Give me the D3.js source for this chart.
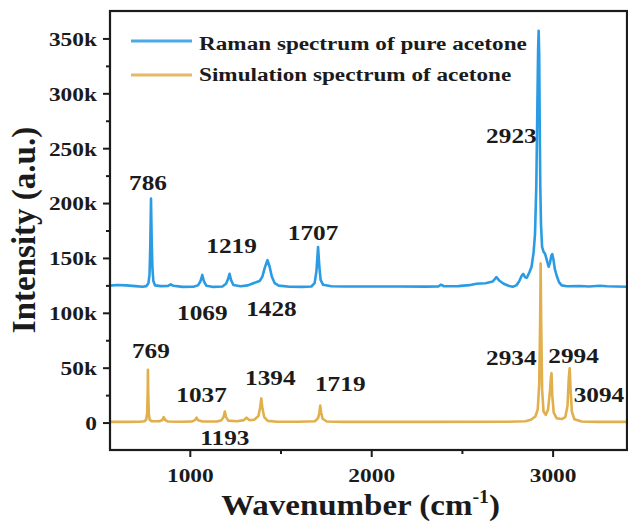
<!DOCTYPE html>
<html>
<head>
<meta charset="utf-8">
<script src="https://cdn.jsdelivr.net/npm/d3@7"></script>
<style>
  body { margin: 0; background: #fff; }
  text { font-family: "Liberation Serif", "Times New Roman", serif; font-weight: bold; fill: #1b1b1b; }
</style>
</head>
<body>
<svg id="chart" width="628" height="521"></svg>
<script>
// ---- data ----
const seriesNames = ["Raman spectrum of pure acetone", "Simulation spectrum of acetone"];

// Measured Raman spectrum of pure acetone
const ramanWavenumber = [
  560, 600, 650, 700, 740, 760, 772, 778, 782, 786, 790, 794, 799, 808, 840, 880, 895, 910, 960,
  1020, 1045, 1058, 1069, 1078, 1092, 1130, 1180, 1200, 1211, 1219, 1227, 1240, 1280, 1320, 1350,
  1365, 1385, 1400, 1413, 1428, 1440, 1452, 1468, 1490, 1550, 1620, 1670, 1688, 1698, 1707, 1714,
  1721, 1735, 1780, 1850, 2000, 2150, 2300, 2370, 2385, 2400, 2480, 2540, 2580, 2630, 2670, 2690,
  2705, 2730, 2760, 2780, 2800, 2815, 2830, 2838, 2848, 2858, 2872, 2884, 2895, 2903, 2910, 2916,
  2920, 2923, 2926, 2929, 2932, 2936, 2942, 2950, 2958, 2968, 2978, 2986, 2993, 2998, 3004, 3012,
  3022, 3035, 3050, 3080, 3150, 3200, 3260, 3300, 3350, 3410
];
const ramanIntensity = [
  124800, 125300, 125000, 124300, 123800, 124300, 127000, 135000, 160000, 204000, 165000, 140000,
  129000, 125000, 124300, 124500, 126000, 124600, 123600,
  123700, 125000, 128500, 134500, 128500, 124600, 123600, 124000, 126500, 131000, 135500, 130000,
  125300, 124200, 125000, 127000,
  127800, 129000, 133000, 141000, 148000, 142000, 133000, 127000, 124800, 123800, 123600, 124000,
  127000, 138000, 160000, 142000,
  130000, 125500, 124200, 124000, 124000, 124000, 123900, 124000, 125600, 124200, 124300, 125200,
  126500, 127000, 128500, 132500,
  129500, 126500, 124500, 123800, 125000, 128500, 134000, 135500, 132500, 132000, 137000, 142000,
  155000, 172000, 215000, 290000,
  340000, 357000, 335000, 270000, 215000, 180000, 160000, 155500, 154000, 148000, 142000, 146000,
  152000, 153500, 149000, 140000,
  134000, 128000, 125000, 124200, 124400, 124000, 124600, 124200, 124000, 123800
];

// Simulated spectrum of acetone
const simWavenumber = [
  560, 650, 720, 750, 760, 765, 768, 769, 771, 774, 779, 790, 830, 848, 856, 864, 880, 950,
  1010, 1028, 1037, 1046, 1070, 1150, 1175, 1186, 1193, 1200, 1212, 1260, 1298, 1313, 1328, 1355,
  1378, 1388, 1394, 1400, 1410, 1430, 1480, 1600, 1690, 1707, 1714, 1719, 1724, 1732, 1755, 1850,
  2300, 2750, 2850, 2880, 2905, 2918, 2926, 2931, 2934, 2937, 2942, 2950, 2962, 2975, 2986, 2991,
  2994, 2998, 3006, 3022, 3050, 3070, 3082, 3089, 3094, 3099, 3106, 3120, 3160, 3250, 3410
];
const simIntensity = [
  600, 600, 700, 1200, 3000, 9000, 30000, 48000, 25000, 8000, 2500, 1300, 1200, 2200, 5000, 2200, 1000, 700,
  900, 2200, 4500, 2000, 900, 1000, 2200, 5000, 10000, 5000, 1800, 1200, 2200, 4500, 2200, 2500,
  6000, 14000, 22000, 13000, 5000, 1500, 800, 700, 1200, 4000, 9000, 15500, 9000, 3500, 1000, 600,
  600, 700, 1200, 2500, 5500, 12000, 35000, 90000, 145000, 90000, 30000, 10000, 7000, 12000, 30000, 42000,
  45000, 25000, 9000, 4000, 3200, 5000, 15000, 40000, 49500, 30000, 10000, 3000, 1000, 600, 600
];

const ramanPeakLabels = ["786", "1069", "1219", "1428", "1707", "2923"];
const simPeakLabels = ["769", "1037", "1193", "1394", "1719", "2934", "2994", "3094"];

const xTicks = [1000, 2000, 3000];
const xTickLabels = ["1000", "2000", "3000"];
const xMinorTicks = [1500, 2500];
const yTicks = [0, 50000, 100000, 150000, 200000, 250000, 300000, 350000];
const yTickLabels = ["0", "50k", "100k", "150k", "200k", "250k", "300k", "350k"];
const yMinorTicks = [25000, 75000, 125000, 175000, 225000, 275000, 325000];

const xLabel = "Wavenumber (cm";
const xLabelSup = "-1";
const yLabel = "Intensity (a.u.)";

// ---- layout ----
const W = 628, H = 521;
const margin = { top: 11, right: 1, bottom: 71, left: 110 };
const iw = W - margin.left - margin.right;
const ih = H - margin.top - margin.bottom;
const colors = ["#2b9ce4", "#e1af4c"];
const ink = "#1b1b1b";
const SX = 1.2; // horizontal stretch of lettering

const svg = d3.select("#chart");
const g = svg.append("g").attr("transform", `translate(${margin.left},${margin.top})`);

const x = d3.scaleLinear().domain([560, 3410]).range([0, iw]);
const y = d3.scaleLinear().domain([-25000, 375000]).range([ih, 0]);

function label(parent, px, py, str, size, anchor, sx) {
  return parent.append("text")
    .attr("transform", `translate(${px},${py}) scale(${sx},1)`)
    .attr("text-anchor", anchor)
    .attr("font-size", size)
    .text(str);
}

// clip for the curves
svg.append("defs").append("clipPath").attr("id", "plotClip")
  .append("rect").attr("width", iw).attr("height", ih);

// ---- axes ----
const xAxis = g.append("g").attr("transform", `translate(0,${ih})`)
  .call(d3.axisBottom(x).tickValues(xTicks).tickFormat((d, i) => xTickLabels[i]).tickSize(7).tickPadding(5));
const xMinor = g.append("g").attr("transform", `translate(0,${ih})`)
  .call(d3.axisBottom(x).tickValues(xMinorTicks).tickFormat("").tickSize(4));
const yAxis = g.append("g")
  .call(d3.axisLeft(y).tickValues(yTicks).tickFormat((d, i) => yTickLabels[i]).tickSize(7));
const yMinor = g.append("g")
  .call(d3.axisLeft(y).tickValues(yMinorTicks).tickFormat("").tickSize(4));

[xAxis, xMinor, yAxis, yMinor].forEach(a => {
  a.select(".domain").remove();
  a.selectAll("line").attr("stroke", ink).attr("stroke-width", 2);
});
xAxis.selectAll("text")
  .attr("font-size", 19.5).attr("fill", ink)
  .attr("y", 0).attr("dy", null)
  .attr("transform", `translate(0,32) scale(${SX},1)`);
yAxis.selectAll("text")
  .attr("font-size", 19.5).attr("fill", ink)
  .attr("x", 0).attr("dy", "0.35em")
  .attr("transform", `translate(-13,0) scale(${SX},1)`);

// ---- curves ----
const line = d3.line().x(d => x(d[0])).y(d => y(d[1]));
const ramanPts = ramanWavenumber.map((w, i) => [w, ramanIntensity[i]]);
const simPts = simWavenumber.map((w, i) => [w, simIntensity[i]]);

const curves = g.append("g").attr("clip-path", "url(#plotClip)");
curves.append("path").datum(ramanPts).attr("d", line)
  .attr("fill", "none").attr("stroke", colors[0]).attr("stroke-width", 2.6)
  .attr("stroke-linejoin", "round");
curves.append("path").datum(simPts).attr("d", line)
  .attr("fill", "none").attr("stroke", colors[1]).attr("stroke-width", 2.6)
  .attr("stroke-linejoin", "round");

// ---- frame ----
g.append("rect").attr("width", iw).attr("height", ih)
  .attr("fill", "none").attr("stroke", ink).attr("stroke-width", 2.2);

// ---- peak annotations (offsets in px from each peak top) ----
const ramanOffsets = [
  { dx: -3, dy: -9, a: "middle" }, { dx: 0, dy: 45, a: "middle" }, { dx: 2, dy: -21, a: "middle" },
  { dx: 4, dy: 56, a: "middle" }, { dx: -5, dy: -7, a: "middle" }, { dx: -2, dy: 112, a: "end" }
];
const simOffsets = [
  { dx: 3, dy: -12, a: "middle" }, { dx: 5, dy: -16, a: "middle" }, { dx: 0, dy: 33, a: "middle" },
  { dx: 9, dy: -13, a: "middle" }, { dx: 20, dy: -15, a: "middle" }, { dx: -4, dy: 102, a: "end" },
  { dx: 22, dy: -10, a: "middle" }, { dx: 4, dy: 34, a: "start" }
];

function annotate(labels, wn, vals, offsets) {
  labels.forEach((t, i) => {
    const p = +t;
    const k = wn.indexOf(p);
    const px = x(p), py = y(vals[k]);
    const o = offsets[i];
    label(g, px + o.dx, py + o.dy, t, 22, o.a, 1.15);
  });
}
annotate(ramanPeakLabels, ramanWavenumber, ramanIntensity, ramanOffsets);
annotate(simPeakLabels, simWavenumber, simIntensity, simOffsets);

// ---- legend ----
const legend = g.append("g").attr("transform", "translate(21,30)");
seriesNames.forEach((name, i) => {
  const ly = i * 34;
  legend.append("line").attr("x1", 0).attr("x2", 61).attr("y1", ly).attr("y2", ly)
    .attr("stroke", colors[i]).attr("stroke-width", 3).attr("opacity", 0.85);
  label(legend, 68, ly + 9 - i * 3, name, 19, "start", 1.22);
});

// ---- axis titles ----
const xt = svg.append("text")
  .attr("transform", `translate(${margin.left + iw / 2 - 8},515) scale(1.1,1)`)
  .attr("text-anchor", "middle").attr("font-size", 30);
xt.append("tspan").text(xLabel);
xt.append("tspan").attr("font-size", 18).attr("dy", -12).text(xLabelSup);
xt.append("tspan").attr("dy", 12).text(")");

svg.append("text")
  .attr("transform", `translate(35,230) rotate(-90)`)
  .attr("text-anchor", "middle").attr("font-size", 33)
  .text(yLabel);
</script>
</body>
</html>
